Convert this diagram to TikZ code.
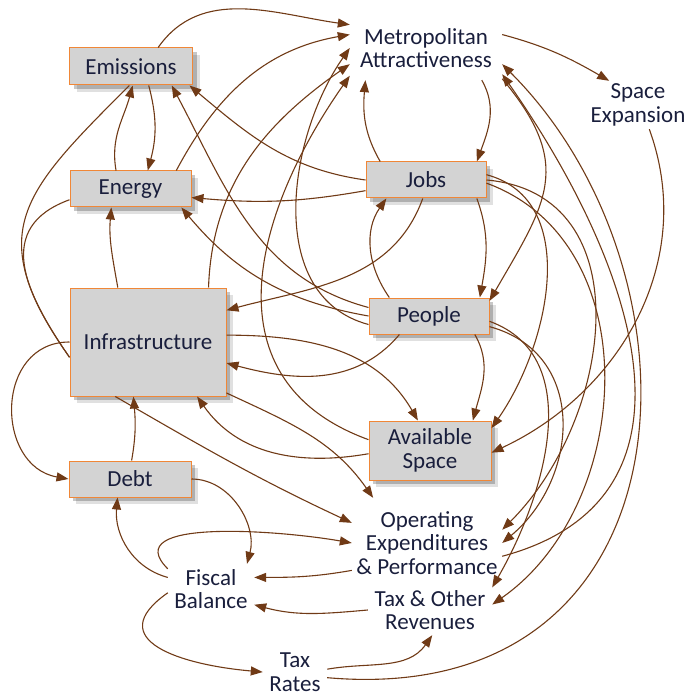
\documentclass[tikz,border=0pt]{standalone}
\usepackage{fontspec}
\setmainfont{Carlito}
\usepackage{tikz}
\usetikzlibrary{arrows.meta, positioning, shadows}
\definecolor{boxgray}{RGB}{211, 211, 211}
\definecolor{boxorange}{RGB}{240, 135, 55}
\definecolor{inkblue}{RGB}{25, 30, 60}
\definecolor{linkbrown}{RGB}{112, 58, 22}
\tikzset{
  stock/.style={rectangle, draw=boxorange, fill=boxgray, line width=1pt,
    align=center, text=inkblue, font=\fontsize{23}{24}\selectfont,
    drop shadow={shadow xshift=7pt, shadow yshift=-7pt, fill=black, opacity=0.12},
    drop shadow={shadow xshift=4pt, shadow yshift=-4pt, fill=black, opacity=0.22}},
  aux/.style={rectangle, align=center, inner sep=0pt, text=inkblue,
    font=\fontsize{23}{23.5}\selectfont},
  link/.style={-{Triangle[length=12pt, width=9pt]}, draw=linkbrown, line width=1.1pt},
  plain/.style={draw=linkbrown, line width=1.1pt},
}
\begin{document}
\begin{tikzpicture}[x=1pt, y=1pt]
  \useasboundingbox (0,0) rectangle (690,-700);

  % ── Stocks ──
  \node[stock, minimum width=123pt, minimum height=37pt] (emis)  at (131,-66.5) {Emissions};
  \node[stock, minimum width=121pt, minimum height=36pt] (ener)  at (130.5,-189) {Energy};
  \node[stock, minimum width=156pt, minimum height=108pt] (infra) at (148,-342) {Infrastructure};
  \node[stock, minimum width=122pt, minimum height=36pt] (debt)  at (130,-479) {Debt};
  \node[stock, minimum width=120pt, minimum height=36pt] (jobs)  at (426,-180) {Jobs};
  \node[stock, minimum width=120pt, minimum height=36pt] (peop)  at (429,-316) {People};
  \node[stock, minimum width=122pt, minimum height=59pt] (avail) at (430,-450.5) {Available\\Space};

  % ── Auxiliaries ──
  \node[aux, minimum width=152pt, minimum height=64pt] (metro) at (426,-48) {Metropolitan\\Attractiveness};
  \node[aux, minimum width=104pt, minimum height=48pt] (space) at (638,-105) {Space\\Expansion};
  \node[aux, minimum width=150pt, minimum height=90pt] (opex)  at (427,-543) {Operating\\Expenditures\\\& Performance};
  \node[aux, minimum width=124pt, minimum height=50pt] (taxrev) at (430,-610) {Tax \& Other\\Revenues};
  \node[aux, minimum width=86pt, minimum height=50pt] (fisc)  at (211,-589) {Fiscal\\Balance};
  \node[aux, minimum width=64pt, minimum height=46pt] (taxrate) at (295,-672) {Tax\\Rates};

  % ── Emissions and Energy ──
  \draw[link] (emis.35) to[out=55, in=172] (metro.163);
  \draw[link] (ener.128) to[out=100, in=255] (emis.275);
  \draw[link] (emis.-47) to[out=-75, in=75] (ener.47);
  \draw[link] (ener.22) to[out=62, in=190] (metro.170);
  \draw[link] (infra.119) to[out=100, in=265] (ener.224);
  \draw[plain] (emis.-95) to[out=225, in=125, looseness=1.4] (infra.191);
  \draw[plain] (ener.190) to[out=200, in=125, looseness=1.3] (infra.191);

  % ── Jobs and People ──
  \draw[link] (jobs.west) to[out=172, in=-40] (emis.-18);
  \draw[link] (jobs.190) to[out=190, in=355] (ener.-8);
  \draw[link] (peop.172) to[out=165, in=-62] (emis.-25);
  \draw[link] (peop.180) to[out=170, in=-50] (ener.-20);
  \draw[link] (peop.155) to[out=125, in=235] (jobs.205);
  \draw[link] (jobs.-20) to[out=-70, in=80] (peop.20);
  \draw[link] (jobs.-100) to[out=-110, in=15] (infra.22);
  \draw[link] (peop.212) to[out=-130, in=-15] (infra.-15);

  % ── Attractiveness ──
  \draw[link] (infra.42) to[out=88, in=215] (metro.192);
  \draw[link] (jobs.158) to[out=120, in=265] (metro.208);
  \draw[link] (metro.330) to[out=-60, in=70] (jobs.20);
  \draw[link] (metro.-22) to[out=-50, in=60, looseness=1.3] (peop.14);
  \draw[link] (peop.188) to[out=165, in=235] (metro.180);
  \draw[link] (avail.170) to[out=160, in=235, looseness=1.2] (metro.200);
  \draw[link] (metro.10) to[out=-15, in=150] (space.140);

  % ── Available space ──
  \draw[link] (space.-65) to[out=-70, in=25] (avail.-2);
  \draw[link] (peop.-22) to[out=-60, in=75] (avail.35);
  \draw[link] (jobs.5) to[out=-15, in=55] (avail.20);
  \draw[link] (infra.5) to[out=0, in=120] (avail.112);
  \draw[link] (avail.183) to[out=190, in=-55] (infra.-48);

  % ── Finance ──
  \draw[link] (infra.-121) to[out=-30, in=155] (opex.165);
  \draw[link] (infra.-33) to[out=-25, in=125] (opex.140);
  \draw[link] (infra.west) to[out=180, in=170, looseness=1.4] (debt.west);
  \draw[link] (debt.85) to[out=80, in=-85] (infra.-105);
  \draw[link] (debt.east) to[out=0, in=75] (fisc.35);
  \draw[link] (fisc.165) to[out=165, in=265] (debt.-124);
  \draw[link] (fisc.155) to[out=135, in=170] (opex.180);
  \draw[link] (opex.-160) to[out=190, in=0] (fisc.15);
  \draw[link] (taxrev.180) to[out=185, in=-15] (fisc.-20);
  \draw[link] (fisc.185) to[out=215, in=175, looseness=1.7] (taxrate.180);
  \draw[link] (taxrate.5) to[out=10, in=235] (taxrev.-85);
  \draw[link] (jobs.0) to[out=-5, in=45, looseness=1.15] (opex.10);
  \draw[link] (jobs.-3) to[out=-20, in=35, looseness=1.05] (taxrev.5);
  \draw[link] (peop.-10) to[out=-15, in=40, looseness=1.2] (opex.0);
  \draw[link] (peop.-5) to[out=-20, in=60] (taxrev.20);
  \draw[link] (opex.-10) to[out=15, in=-55, looseness=1.2] (metro.-19);
  \draw[link] (taxrate.-10) to[out=-5, in=-45, out looseness=1.5, in looseness=1.2] (metro.-12);

\end{tikzpicture}
\end{document}
